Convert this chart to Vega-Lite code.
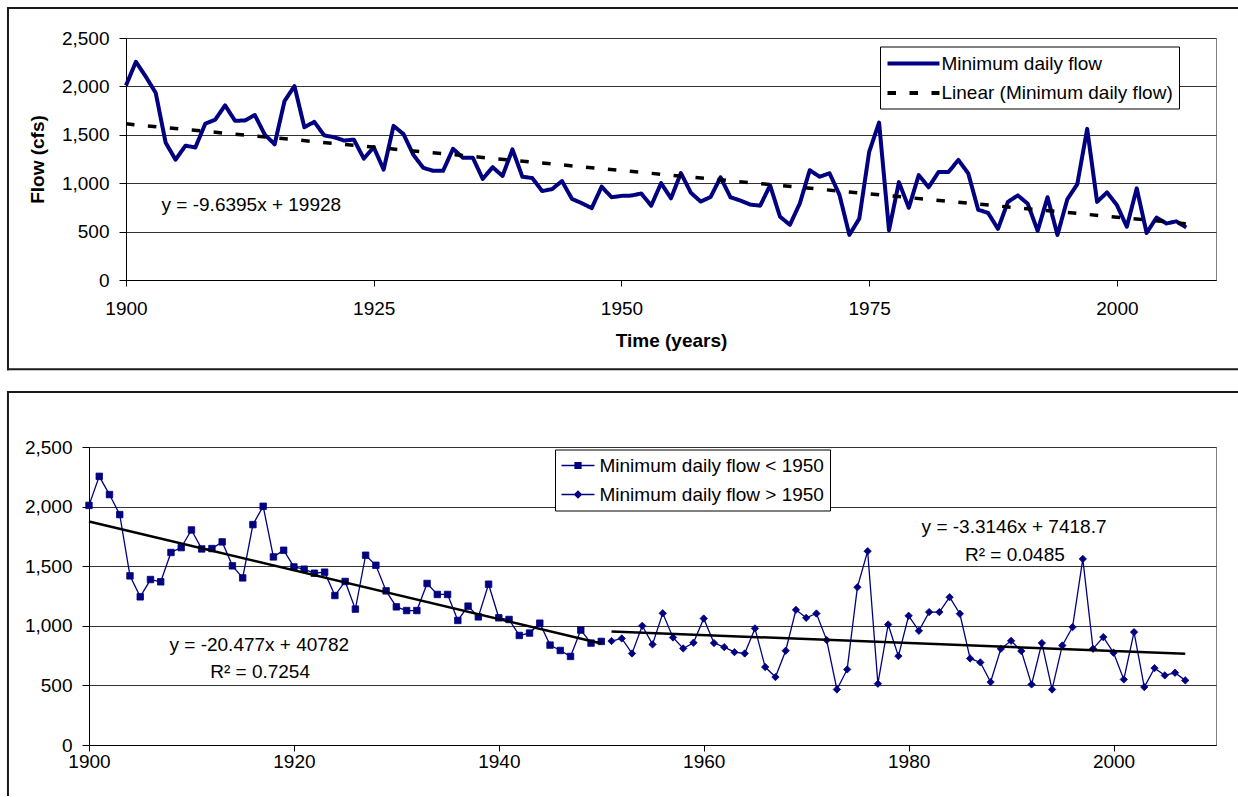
{
  "$schema": "https://vega.github.io/schema/vega-lite/v6.json",
  "background": "white",
  "padding": {"left": 5, "top": 6, "right": 0, "bottom": 0},
  "datasets": {
    "flow": [
      {"year":1900,"flow":2010,"period":"Minimum daily flow < 1950"},
      {"year":1901,"flow":2254,"period":"Minimum daily flow < 1950"},
      {"year":1902,"flow":2101,"period":"Minimum daily flow < 1950"},
      {"year":1903,"flow":1933,"period":"Minimum daily flow < 1950"},
      {"year":1904,"flow":1419,"period":"Minimum daily flow < 1950"},
      {"year":1905,"flow":1243,"period":"Minimum daily flow < 1950"},
      {"year":1906,"flow":1388,"period":"Minimum daily flow < 1950"},
      {"year":1907,"flow":1369,"period":"Minimum daily flow < 1950"},
      {"year":1908,"flow":1615,"period":"Minimum daily flow < 1950"},
      {"year":1909,"flow":1656,"period":"Minimum daily flow < 1950"},
      {"year":1910,"flow":1804,"period":"Minimum daily flow < 1950"},
      {"year":1911,"flow":1645,"period":"Minimum daily flow < 1950"},
      {"year":1912,"flow":1648,"period":"Minimum daily flow < 1950"},
      {"year":1913,"flow":1704,"period":"Minimum daily flow < 1950"},
      {"year":1914,"flow":1503,"period":"Minimum daily flow < 1950"},
      {"year":1915,"flow":1402,"period":"Minimum daily flow < 1950"},
      {"year":1916,"flow":1849,"period":"Minimum daily flow < 1950"},
      {"year":1917,"flow":2003,"period":"Minimum daily flow < 1950"},
      {"year":1918,"flow":1578,"period":"Minimum daily flow < 1950"},
      {"year":1919,"flow":1634,"period":"Minimum daily flow < 1950"},
      {"year":1920,"flow":1494,"period":"Minimum daily flow < 1950"},
      {"year":1921,"flow":1475,"period":"Minimum daily flow < 1950"},
      {"year":1922,"flow":1441,"period":"Minimum daily flow < 1950"},
      {"year":1923,"flow":1450,"period":"Minimum daily flow < 1950"},
      {"year":1924,"flow":1254,"period":"Minimum daily flow < 1950"},
      {"year":1925,"flow":1372,"period":"Minimum daily flow < 1950"},
      {"year":1926,"flow":1140,"period":"Minimum daily flow < 1950"},
      {"year":1927,"flow":1592,"period":"Minimum daily flow < 1950"},
      {"year":1928,"flow":1508,"period":"Minimum daily flow < 1950"},
      {"year":1929,"flow":1293,"period":"Minimum daily flow < 1950"},
      {"year":1930,"flow":1159,"period":"Minimum daily flow < 1950"},
      {"year":1931,"flow":1128,"period":"Minimum daily flow < 1950"},
      {"year":1932,"flow":1128,"period":"Minimum daily flow < 1950"},
      {"year":1933,"flow":1355,"period":"Minimum daily flow < 1950"},
      {"year":1934,"flow":1263,"period":"Minimum daily flow < 1950"},
      {"year":1935,"flow":1263,"period":"Minimum daily flow < 1950"},
      {"year":1936,"flow":1045,"period":"Minimum daily flow < 1950"},
      {"year":1937,"flow":1165,"period":"Minimum daily flow < 1950"},
      {"year":1938,"flow":1075,"period":"Minimum daily flow < 1950"},
      {"year":1939,"flow":1349,"period":"Minimum daily flow < 1950"},
      {"year":1940,"flow":1067,"period":"Minimum daily flow < 1950"},
      {"year":1941,"flow":1053,"period":"Minimum daily flow < 1950"},
      {"year":1942,"flow":919,"period":"Minimum daily flow < 1950"},
      {"year":1943,"flow":939,"period":"Minimum daily flow < 1950"},
      {"year":1944,"flow":1022,"period":"Minimum daily flow < 1950"},
      {"year":1945,"flow":838,"period":"Minimum daily flow < 1950"},
      {"year":1946,"flow":793,"period":"Minimum daily flow < 1950"},
      {"year":1947,"flow":743,"period":"Minimum daily flow < 1950"},
      {"year":1948,"flow":964,"period":"Minimum daily flow < 1950"},
      {"year":1949,"flow":855,"period":"Minimum daily flow < 1950"},
      {"year":1950,"flow":869,"period":"Minimum daily flow < 1950"},
      {"year":1951,"flow":872,"period":"Minimum daily flow > 1950"},
      {"year":1952,"flow":894,"period":"Minimum daily flow > 1950"},
      {"year":1953,"flow":768,"period":"Minimum daily flow > 1950"},
      {"year":1954,"flow":1000,"period":"Minimum daily flow > 1950"},
      {"year":1955,"flow":844,"period":"Minimum daily flow > 1950"},
      {"year":1956,"flow":1105,"period":"Minimum daily flow > 1950"},
      {"year":1957,"flow":902,"period":"Minimum daily flow > 1950"},
      {"year":1958,"flow":810,"period":"Minimum daily flow > 1950"},
      {"year":1959,"flow":858,"period":"Minimum daily flow > 1950"},
      {"year":1960,"flow":1061,"period":"Minimum daily flow > 1950"},
      {"year":1961,"flow":855,"period":"Minimum daily flow > 1950"},
      {"year":1962,"flow":821,"period":"Minimum daily flow > 1950"},
      {"year":1963,"flow":779,"period":"Minimum daily flow > 1950"},
      {"year":1964,"flow":768,"period":"Minimum daily flow > 1950"},
      {"year":1965,"flow":978,"period":"Minimum daily flow > 1950"},
      {"year":1966,"flow":654,"period":"Minimum daily flow > 1950"},
      {"year":1967,"flow":570,"period":"Minimum daily flow > 1950"},
      {"year":1968,"flow":791,"period":"Minimum daily flow > 1950"},
      {"year":1969,"flow":1134,"period":"Minimum daily flow > 1950"},
      {"year":1970,"flow":1067,"period":"Minimum daily flow > 1950"},
      {"year":1971,"flow":1103,"period":"Minimum daily flow > 1950"},
      {"year":1972,"flow":880,"period":"Minimum daily flow > 1950"},
      {"year":1973,"flow":466,"period":"Minimum daily flow > 1950"},
      {"year":1974,"flow":634,"period":"Minimum daily flow > 1950"},
      {"year":1975,"flow":1324,"period":"Minimum daily flow > 1950"},
      {"year":1976,"flow":1626,"period":"Minimum daily flow > 1950"},
      {"year":1977,"flow":514,"period":"Minimum daily flow > 1950"},
      {"year":1978,"flow":1011,"period":"Minimum daily flow > 1950"},
      {"year":1979,"flow":746,"period":"Minimum daily flow > 1950"},
      {"year":1980,"flow":1084,"period":"Minimum daily flow > 1950"},
      {"year":1981,"flow":958,"period":"Minimum daily flow > 1950"},
      {"year":1982,"flow":1115,"period":"Minimum daily flow > 1950"},
      {"year":1983,"flow":1115,"period":"Minimum daily flow > 1950"},
      {"year":1984,"flow":1240,"period":"Minimum daily flow > 1950"},
      {"year":1985,"flow":1101,"period":"Minimum daily flow > 1950"},
      {"year":1986,"flow":726,"period":"Minimum daily flow > 1950"},
      {"year":1987,"flow":693,"period":"Minimum daily flow > 1950"},
      {"year":1988,"flow":528,"period":"Minimum daily flow > 1950"},
      {"year":1989,"flow":807,"period":"Minimum daily flow > 1950"},
      {"year":1990,"flow":874,"period":"Minimum daily flow > 1950"},
      {"year":1991,"flow":788,"period":"Minimum daily flow > 1950"},
      {"year":1992,"flow":508,"period":"Minimum daily flow > 1950"},
      {"year":1993,"flow":855,"period":"Minimum daily flow > 1950"},
      {"year":1994,"flow":466,"period":"Minimum daily flow > 1950"},
      {"year":1995,"flow":835,"period":"Minimum daily flow > 1950"},
      {"year":1996,"flow":989,"period":"Minimum daily flow > 1950"},
      {"year":1997,"flow":1561,"period":"Minimum daily flow > 1950"},
      {"year":1998,"flow":807,"period":"Minimum daily flow > 1950"},
      {"year":1999,"flow":905,"period":"Minimum daily flow > 1950"},
      {"year":2000,"flow":774,"period":"Minimum daily flow > 1950"},
      {"year":2001,"flow":550,"period":"Minimum daily flow > 1950"},
      {"year":2002,"flow":947,"period":"Minimum daily flow > 1950"},
      {"year":2003,"flow":486,"period":"Minimum daily flow > 1950"},
      {"year":2004,"flow":645,"period":"Minimum daily flow > 1950"},
      {"year":2005,"flow":584,"period":"Minimum daily flow > 1950"},
      {"year":2006,"flow":606,"period":"Minimum daily flow > 1950"},
      {"year":2007,"flow":542,"period":"Minimum daily flow > 1950"}
    ],
    "trend_top": [
      {"year":1900,"flow":1612.95},
      {"year":2007,"flow":581.52}
    ],
    "trend_bottom": [
      {"year":1900,"flow":1875.7,"fit":"before"},
      {"year":1950,"flow":851.85,"fit":"before"},
      {"year":1951,"flow":951.92,"fit":"after"},
      {"year":2007,"flow":766.3,"fit":"after"}
    ],
    "notes_top": [
      {"label":"y = -9.6395x + 19928","year":1912.65,"flow":775}
    ],
    "notes_bottom": [
      {"label":"y = -20.477x + 40782","year":1916.62,"flow":843},
      {"label":"R² = 0.7254","year":1916.7,"flow":610},
      {"label":"y = -3.3146x + 7418.7","year":1990.29,"flow":1829},
      {"label":"R² = 0.0485","year":1990.37,"flow":1596}
    ],
    "blank": [{}]
  },
  "concat": [
    {
      "width": 1, "height": 1, "view": {"stroke": null},
      "data": {"name": "blank"},
      "mark": {"type": "text", "text": ""}
    },
    {
      "width": 1090,
      "height": 242,
      "layer": [
        {
          "data": {"name": "flow"},
          "mark": {"type": "line", "strokeWidth": 4, "strokeJoin": "round"},
          "encoding": {
            "x": {"field": "year", "type": "quantitative",
              "scale": {"domain": [1900, 2010], "nice": false, "zero": false},
              "axis": {"title": "Time (years)", "values": [1900, 1925, 1950, 1975, 2000], "format": "d", "grid": false, "tickSize": 6, "labelPadding": 13, "titlePadding": 13}},
            "y": {"field": "flow", "type": "quantitative",
              "scale": {"domain": [0, 2500], "nice": false, "zero": false},
              "axis": {"title": "Flow (cfs)", "values": [0, 500, 1000, 1500, 2000, 2500], "format": ",d", "grid": true, "tickSize": 7, "labelPadding": 10, "titlePadding": 14}},
            "color": {"datum": "Minimum daily flow",
              "scale": {"domain": ["Minimum daily flow", "Linear (Minimum daily flow)"], "range": ["#000080", "#000000"]},
              "legend": {"title": null, "orient": "none", "legendX": 754, "legendY": 8.5, "symbolType": "M-1,0H4.47", "symbolSize": 361, "symbolStrokeWidth": 4, "labelOffset": 33, "padding": 5.5, "rowPadding": 7.4}},
            "strokeDash": {"datum": "Minimum daily flow",
              "scale": {"domain": ["Minimum daily flow", "Linear (Minimum daily flow)"], "range": [[1, 0], [8.5, 13.5]]},
              "legend": {"title": null, "orient": "none", "legendX": 754, "legendY": 8.5, "symbolType": "M-1,0H4.47", "symbolSize": 361, "symbolStrokeWidth": 4, "labelOffset": 33, "padding": 5.5, "rowPadding": 7.4}}
          }
        },
        {
          "data": {"name": "trend_top"},
          "mark": {"type": "line", "strokeWidth": 3.5},
          "encoding": {
            "x": {"field": "year", "type": "quantitative", "scale": {"domain": [1900, 2010], "nice": false, "zero": false}},
            "y": {"field": "flow", "type": "quantitative", "scale": {"domain": [0, 2500], "nice": false, "zero": false}},
            "color": {"datum": "Linear (Minimum daily flow)",
              "scale": {"domain": ["Minimum daily flow", "Linear (Minimum daily flow)"], "range": ["#000080", "#000000"]},
              "legend": {"title": null, "orient": "none", "legendX": 754, "legendY": 8.5, "symbolType": "M-1,0H4.47", "symbolSize": 361, "symbolStrokeWidth": 4, "labelOffset": 33, "padding": 5.5, "rowPadding": 7.4}},
            "strokeDash": {"datum": "Linear (Minimum daily flow)",
              "scale": {"domain": ["Minimum daily flow", "Linear (Minimum daily flow)"], "range": [[1, 0], [8.5, 13.5]]},
              "legend": {"title": null, "orient": "none", "legendX": 754, "legendY": 8.5, "symbolType": "M-1,0H4.47", "symbolSize": 361, "symbolStrokeWidth": 4, "labelOffset": 33, "padding": 5.5, "rowPadding": 7.4}}
          }
        },
        {
          "data": {"name": "notes_top"},
          "mark": {"type": "text", "fontSize": 19, "font": "Liberation Sans", "color": "black", "align": "center", "baseline": "middle"},
          "encoding": {
            "x": {"field": "year", "type": "quantitative", "scale": {"domain": [1900, 2010], "nice": false, "zero": false}},
            "y": {"field": "flow", "type": "quantitative", "scale": {"domain": [0, 2500], "nice": false, "zero": false}},
            "text": {"field": "label"}
          }
        },
        {
          "data": {"name": "blank"},
          "mark": {"type": "rule", "strokeWidth": 2, "color": "#1a1a1a", "strokeCap": "square"},
          "encoding": {
            "x": {"datum": 1888.09, "type": "quantitative", "scale": {"domain": [1900, 2010], "nice": false, "zero": false}},
            "x2": {"datum": 2012.22},
            "y": {"datum": 2810, "type": "quantitative", "scale": {"domain": [0, 2500], "nice": false, "zero": false}}
          }
        },
        {
          "data": {"name": "blank"},
          "mark": {"type": "rule", "strokeWidth": 2, "color": "#1a1a1a", "strokeCap": "square"},
          "encoding": {
            "x": {"datum": 1888.09, "type": "quantitative", "scale": {"domain": [1900, 2010], "nice": false, "zero": false}},
            "x2": {"datum": 2012.22},
            "y": {"datum": -922.5, "type": "quantitative", "scale": {"domain": [0, 2500], "nice": false, "zero": false}}
          }
        },
        {
          "data": {"name": "blank"},
          "mark": {"type": "rule", "strokeWidth": 2, "color": "#1a1a1a", "strokeCap": "square"},
          "encoding": {
            "x": {"datum": 1888.09, "type": "quantitative", "scale": {"domain": [1900, 2010], "nice": false, "zero": false}},
            "y": {"datum": 2810, "type": "quantitative", "scale": {"domain": [0, 2500], "nice": false, "zero": false}},
            "y2": {"datum": -922.5}
          }
        }
      ]
    },
    {
      "width": 1, "height": 1, "view": {"stroke": null},
      "data": {"name": "blank"},
      "mark": {"type": "text", "text": ""}
    },
    {
      "width": 1127,
      "height": 298,
      "layer": [
        {
          "data": {"name": "flow"},
          "mark": {"type": "line", "strokeWidth": 1.3, "color": "#000080"},
          "encoding": {
            "x": {"field": "year", "type": "quantitative",
              "scale": {"domain": [1900, 2010], "nice": false, "zero": false},
              "axis": {"title": null, "values": [1900, 1920, 1940, 1960, 1980, 2000], "format": "d", "grid": false, "tickSize": 6, "labelPadding": 1}},
            "y": {"field": "flow", "type": "quantitative",
              "scale": {"domain": [0, 2500], "nice": false, "zero": false},
              "axis": {"title": null, "values": [0, 500, 1000, 1500, 2000, 2500], "format": ",d", "grid": true, "tickSize": 7, "labelPadding": 10}},
            "detail": {"field": "period", "type": "nominal"}
          }
        },
        {
          "data": {"name": "flow"},
          "transform": [{"filter": "datum.year <= 1950"}],
          "mark": {"type": "point", "shape": "square", "filled": true, "size": 42, "color": "#000080", "stroke": "#000080", "strokeWidth": 0.8, "opacity": 1},
          "encoding": {
            "x": {"field": "year", "type": "quantitative", "scale": {"domain": [1900, 2010], "nice": false, "zero": false}},
            "y": {"field": "flow", "type": "quantitative", "scale": {"domain": [0, 2500], "nice": false, "zero": false}}
          }
        },
        {
          "data": {"name": "flow"},
          "transform": [{"filter": "datum.year > 1950"}],
          "mark": {"type": "point", "shape": "diamond", "filled": true, "size": 54, "color": "#000080", "stroke": "#000080", "strokeWidth": 0.8, "opacity": 1},
          "encoding": {
            "x": {"field": "year", "type": "quantitative", "scale": {"domain": [1900, 2010], "nice": false, "zero": false}},
            "y": {"field": "flow", "type": "quantitative", "scale": {"domain": [0, 2500], "nice": false, "zero": false}}
          }
        },
        {
          "data": {"name": "blank"},
          "mark": {"type": "point", "filled": true, "color": "#000080", "opacity": 1},
          "encoding": {
            "x": {"field": "year", "type": "quantitative", "scale": {"domain": [1900, 2010], "nice": false, "zero": false}},
            "y": {"field": "flow", "type": "quantitative", "scale": {"domain": [0, 2500], "nice": false, "zero": false}},
            "shape": {"field": "period", "type": "nominal",
              "scale": {"domain": ["Minimum daily flow < 1950", "Minimum daily flow > 1950"],
                "range": ["M-1,-0.07H2.47V0.07H-1ZM0.357,-0.38H1.117V0.38H0.357Z", "M-1,-0.07H2.47V0.07H-1ZM0.737,-0.46L1.197,0L0.737,0.46L0.277,0Z"]},
              "legend": {"title": null, "orient": "none", "legendX": 466, "legendY": 2.5, "symbolSize": 361, "symbolFillColor": "#000080", "labelOffset": 18, "padding": 5.5, "rowPadding": 8}}
          }
        },
        {
          "data": {"name": "trend_bottom"},
          "mark": {"type": "line", "strokeWidth": 2.5, "color": "#000000"},
          "encoding": {
            "x": {"field": "year", "type": "quantitative", "scale": {"domain": [1900, 2010], "nice": false, "zero": false}},
            "y": {"field": "flow", "type": "quantitative", "scale": {"domain": [0, 2500], "nice": false, "zero": false}},
            "detail": {"field": "fit", "type": "nominal"}
          }
        },
        {
          "data": {"name": "notes_bottom"},
          "mark": {"type": "text", "fontSize": 19, "font": "Liberation Sans", "color": "black", "align": "center", "baseline": "middle"},
          "encoding": {
            "x": {"field": "year", "type": "quantitative", "scale": {"domain": [1900, 2010], "nice": false, "zero": false}},
            "y": {"field": "flow", "type": "quantitative", "scale": {"domain": [0, 2500], "nice": false, "zero": false}},
            "text": {"field": "label"}
          }
        },
        {
          "data": {"name": "blank"},
          "mark": {"type": "rule", "strokeWidth": 2, "color": "#1a1a1a", "strokeCap": "square"},
          "encoding": {
            "x": {"datum": 1892.09, "type": "quantitative", "scale": {"domain": [1900, 2010], "nice": false, "zero": false}},
            "x2": {"datum": 2012.15},
            "y": {"datum": 2961.4, "type": "quantitative", "scale": {"domain": [0, 2500], "nice": false, "zero": false}}
          }
        },
        {
          "data": {"name": "blank"},
          "mark": {"type": "rule", "strokeWidth": 2, "color": "#1a1a1a", "strokeCap": "square"},
          "encoding": {
            "x": {"datum": 1892.09, "type": "quantitative", "scale": {"domain": [1900, 2010], "nice": false, "zero": false}},
            "y": {"datum": 2961.4, "type": "quantitative", "scale": {"domain": [0, 2500], "nice": false, "zero": false}},
            "y2": {"datum": -419.5}
          }
        }
      ]
    }
  ],
  "columns": 2,
  "align": "none",
  "spacing": {"row": 18, "column": 0},
  "resolve": {"scale": {"color": "independent", "strokeDash": "independent", "shape": "independent"}},
  "config": {
    "font": "Liberation Sans",
    "view": {"stroke": "#808080", "strokeWidth": 1},
    "axis": {
      "labelFont": "Liberation Sans", "labelFontSize": 19, "labelColor": "#000000",
      "titleFont": "Liberation Sans", "titleFontSize": 19, "titleFontWeight": "bold", "titleColor": "#000000",
      "domainColor": "#000000", "domainWidth": 1, "tickColor": "#000000", "tickWidth": 1,
      "gridColor": "#333333", "gridWidth": 1, "labelFlush": false, "labelOverlap": false, "labelBound": false
    },
    "legend": {
      "labelFont": "Liberation Sans", "labelFontSize": 19, "labelColor": "#000000", "labelLimit": 600,
      "strokeColor": "#000000", "fillColor": "#ffffff"
    }
  }
}
